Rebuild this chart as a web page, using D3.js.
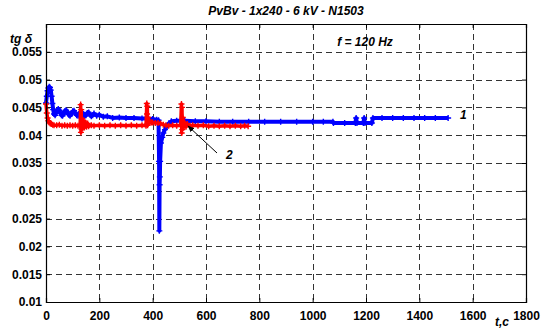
<!DOCTYPE html>
<html>
<head>
<meta charset="utf-8">
<script src="https://cdn.jsdelivr.net/npm/d3@7"></script>
<style>
  body { margin: 0; background: #fff; }
  svg { display: block; font-family: "Liberation Sans", Arial, sans-serif; }
  .tick text { font-size: 12px; font-weight: bold; fill: #000; }
  .lbl { font-size: 12px; font-weight: bold; font-style: italic; fill: #000; }
</style>
</head>
<body>
<svg id="chart" width="545" height="332"></svg>
<script>
// x ticks and y ticks
var xTicks = [0, 200, 400, 600, 800, 1000, 1200, 1400, 1600, 1800];
var yTicks = [0.01, 0.015, 0.02, 0.025, 0.03, 0.035, 0.04, 0.045, 0.05, 0.055];

// curve 1 (blue)
var blueT = [0, 3, 6, 9, 12, 15, 18, 21, 24, 27, 30, 34, 38, 42, 46, 50, 54, 58, 62, 66,
  70, 75, 80, 85, 90, 95, 100, 105, 110, 115, 120, 125, 130, 135, 140, 145, 150, 155, 160, 165,
  170, 175, 180, 190, 200, 215, 230, 250, 275, 300, 330, 360, 380, 400, 415, 422, 424, 425, 426, 427,
  428, 431, 436, 440, 446, 452, 460, 470, 490, 520, 560, 600, 650, 700, 760, 820, 880, 940, 1000, 1040,
  1076, 1078, 1120, 1160, 1163, 1166, 1190, 1193, 1196, 1222, 1226, 1260, 1300, 1340, 1380, 1420, 1460, 1508];
var blueV = [0.0458, 0.0470, 0.0480, 0.0485, 0.0487, 0.0486, 0.0481, 0.0470, 0.0457, 0.0446, 0.0438, 0.0436, 0.0440, 0.0445, 0.0447, 0.0445, 0.0440, 0.0436, 0.0435, 0.0438,
  0.0443, 0.0445, 0.0442, 0.0437, 0.0435, 0.0438, 0.0443, 0.0444, 0.0440, 0.0436, 0.0435, 0.0438, 0.0442, 0.0441, 0.0437, 0.0434, 0.0436, 0.0440, 0.0441, 0.0437,
  0.0434, 0.0436, 0.0439, 0.0435, 0.0437, 0.0433, 0.0434, 0.0431, 0.0432, 0.0431, 0.0431, 0.0430, 0.0430, 0.0429, 0.0428, 0.0427, 0.0353, 0.0228, 0.0311, 0.0325,
  0.0353, 0.0386, 0.0396, 0.0404, 0.0410, 0.0416, 0.0421, 0.0425, 0.0426, 0.0426, 0.0425, 0.0425, 0.0424, 0.0424, 0.0424, 0.0424, 0.0424, 0.0424, 0.0424, 0.0424,
  0.0424, 0.0422, 0.0422, 0.0422, 0.0431, 0.0422, 0.0422, 0.0431, 0.0422, 0.0422, 0.0431, 0.0431, 0.0431, 0.0431, 0.0431, 0.0431, 0.0431, 0.0431];

// curve 2 (red)
var redT = [0, 3, 6, 9, 12, 16, 20, 25, 30, 40, 50, 60, 70, 80, 90, 100, 110, 120, 128, 130,
  131, 132, 133, 135, 138, 141, 144, 148, 152, 156, 160, 170, 180, 200, 220, 240, 260, 280, 300, 320,
  340, 360, 375, 378, 379, 380, 381, 383, 386, 390, 395, 400, 410, 420, 430, 440, 450, 460, 475, 490,
  505, 508, 509, 510, 511, 513, 516, 520, 525, 530, 540, 550, 570, 590, 610, 630, 650, 670, 690, 710,
  730, 745, 758];
var redV = [0.0456, 0.0440, 0.0431, 0.0426, 0.0423, 0.0421, 0.0420, 0.0419, 0.0418, 0.0418, 0.0419, 0.0417, 0.0418, 0.0417, 0.0418, 0.0417, 0.0418, 0.0417, 0.0418, 0.0455,
  0.0405, 0.0446, 0.0411, 0.0430, 0.0413, 0.0426, 0.0414, 0.0423, 0.0415, 0.0421, 0.0416, 0.0418, 0.0417, 0.0418, 0.0417, 0.0418, 0.0417, 0.0418, 0.0417, 0.0418,
  0.0417, 0.0418, 0.0417, 0.0457, 0.0438, 0.0452, 0.0418, 0.0432, 0.0422, 0.0424, 0.0423, 0.0423, 0.0422, 0.0422, 0.0421, 0.0419, 0.0418, 0.0417, 0.0418, 0.0417,
  0.0418, 0.0456, 0.0404, 0.0450, 0.0410, 0.0432, 0.0414, 0.0423, 0.0415, 0.0420, 0.0417, 0.0418, 0.0417, 0.0418, 0.0416, 0.0417, 0.0416, 0.0417, 0.0416, 0.0417,
  0.0416, 0.0417, 0.0416];

var svg = d3.select('#chart'),
    plotL = 46, plotR = 526, plotT = 24, plotB = 302;

var x = d3.scaleLinear().domain([0, 1800]).range([plotL, plotR]);
var y = d3.scaleLinear().domain([0.01, 0.06]).range([plotB, plotT]);

// dashed grid
var grid = svg.append('g').attr('stroke', '#333').attr('stroke-width', 1).attr('stroke-dasharray', '6,4');
grid.selectAll('line.v').data(xTicks.slice(1, -1)).enter().append('line')
  .attr('x1', function(d) { return Math.round(x(d)) + 0.5; })
  .attr('x2', function(d) { return Math.round(x(d)) + 0.5; })
  .attr('y1', plotT).attr('y2', plotB);
grid.selectAll('line.h').data(yTicks.slice(1)).enter().append('line')
  .attr('y1', function(d) { return Math.round(y(d)) + 0.5; })
  .attr('y2', function(d) { return Math.round(y(d)) + 0.5; })
  .attr('x1', plotL).attr('x2', plotR);

// data
var line = d3.line()
  .x(function(d) { return x(d[0]); })
  .y(function(d) { return y(d[1]); });
var plus = 'M-3,0H3M0,-3V3';

function drawSeries(ts, vs, color, width) {
  var pts = ts.map(function(t, i) { return [t, vs[i]]; });
  var g = svg.append('g');
  g.append('path').datum(pts)
    .attr('d', line)
    .attr('fill', 'none')
    .attr('stroke', color)
    .attr('stroke-width', width)
    .attr('stroke-linejoin', 'round');
  g.selectAll('path.m').data(pts).enter().append('path')
    .attr('class', 'm')
    .attr('d', plus)
    .attr('transform', function(d) { return 'translate(' + x(d[0]) + ',' + y(d[1]) + ')'; })
    .attr('stroke', color)
    .attr('stroke-width', 1.4);
}
drawSeries(blueT, blueV, '#0000ff', 4);
drawSeries(redT, redV, '#ff0000', 3.5);

// axes
var xAxis = svg.append('g').attr('transform', 'translate(0,' + plotB + ')')
  .call(d3.axisBottom(x).tickValues(xTicks).tickSize(-4).tickPadding(7).tickFormat(d3.format('d')));
var yAxis = svg.append('g').attr('transform', 'translate(' + plotL + ',0)')
  .call(d3.axisLeft(y).tickValues(yTicks).tickSize(-4).tickPadding(4).tickFormat(function(d) { return +d.toFixed(3) + ''; }));
svg.append('g').attr('transform', 'translate(0,' + plotT + ')')
  .call(d3.axisTop(x).tickValues(xTicks).tickSize(-4).tickFormat(''));
svg.append('g').attr('transform', 'translate(' + plotR + ',0)')
  .call(d3.axisRight(y).tickValues(yTicks).tickSize(-4).tickFormat(''));
svg.selectAll('.domain').attr('stroke', '#000').attr('stroke-width', 1.2);
svg.selectAll('.tick line').attr('stroke', '#000');
xAxis.selectAll('.tick text').attr('dy', '0.9em');

// labels
svg.append('text').attr('class', 'lbl').attr('x', 286).attr('y', 15).attr('text-anchor', 'middle')
  .text('PvBv - 1x240 - 6 kV - N1503');
svg.append('text').attr('class', 'lbl').attr('x', 10).attr('y', 43).text('tg δ');
svg.append('text').attr('class', 'lbl').attr('x', 365).attr('y', 46).attr('text-anchor', 'middle')
  .text('f = 120 Hz');
svg.append('text').attr('class', 'lbl').attr('x', 495).attr('y', 326).text('t,c');
svg.append('text').attr('class', 'lbl').attr('x', 460).attr('y', 119).text('1');
svg.append('text').attr('class', 'lbl').attr('x', 226).attr('y', 159).text('2');

// arrow to curve 2
svg.append('defs').append('marker')
  .attr('id', 'ah').attr('viewBox', '0 0 10 10').attr('refX', 9).attr('refY', 5)
  .attr('markerWidth', 7).attr('markerHeight', 7).attr('orient', 'auto')
  .append('path').attr('d', 'M0,1L10,5L0,9Z').attr('fill', '#000');
svg.append('line')
  .attr('x1', 217).attr('y1', 153).attr('x2', 188).attr('y2', 126)
  .attr('stroke', '#000').attr('stroke-width', 1).attr('marker-end', 'url(#ah)');
</script>
</body>
</html>
